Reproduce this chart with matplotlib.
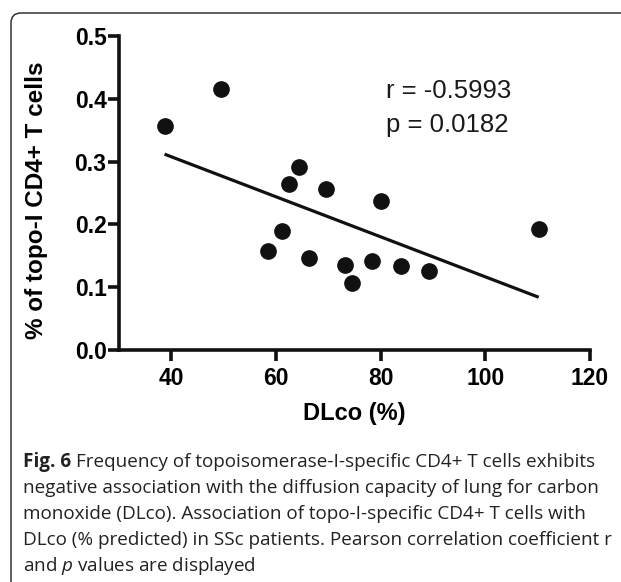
import numpy as np
import matplotlib
matplotlib.use('Agg')
import matplotlib.pyplot as plt
from matplotlib.patches import FancyBboxPatch

# valores
dlco = [38.7, 49.4, 58.5, 61.1, 62.4, 64.4, 66.4, 69.6, 73.1, 74.5, 78.3, 80.1, 83.9, 89.3, 110.2]
topo = [0.356, 0.415, 0.157, 0.189, 0.265, 0.291, 0.147, 0.256, 0.136, 0.107, 0.142, 0.237, 0.134, 0.126, 0.192]
xticks = [40, 60, 80, 100, 120]
yticks = [0.0, 0.1, 0.2, 0.3, 0.4, 0.5]
r_text = 'r = -0.5993'
p_text = 'p = 0.0182'
fig_label = 'Fig. 6'
caption = [
    'Frequency of topoisomerase-I-specific CD4+ T cells exhibits',
    'negative association with the diffusion capacity of lung for carbon',
    'monoxide (DLco). Association of topo-I-specific CD4+ T cells with',
    'DLco (% predicted) in SSc patients. Pearson correlation coefficient r',
    r'and $p$ values are displayed',
]

plt.rcParams['font.family'] = ['Liberation Sans', 'DejaVu Sans']
plt.rcParams['mathtext.fontset'] = 'custom'
plt.rcParams['mathtext.rm'] = 'Open Sans'
plt.rcParams['mathtext.it'] = 'Open Sans:italic'

W, H = 621, 582
fig = plt.figure(figsize=(W / 100, H / 100), dpi=100)

# marco redondeado (se sale por la derecha y por abajo)
box = FancyBboxPatch((11, -30), 640, H - 13 + 30, boxstyle='round,pad=0,rounding_size=10',
                     transform=None, fill=False, edgecolor='#333333', linewidth=1.1)
fig.patches.append(box)

ax = fig.add_axes([119 / W, 1 - 350 / H, (590 - 119) / W, (350 - 36) / H])
ax.plot(dlco, topo, 'o', color='#111111', markersize=11, clip_on=False, zorder=3)

# recta de regresion
m, b = np.polyfit(dlco, topo, 1)
xs = np.array([min(dlco), max(dlco)])
ax.plot(xs, m * xs + b, color='#111111', linewidth=2.3, solid_capstyle='butt')

ax.set_xlim(30, 120)
ax.set_ylim(0, 0.5)
ax.set_xticks(xticks)
ax.set_yticks(yticks)
ax.set_yticklabels(['%.1f' % v for v in yticks])
for s in ['top', 'right']:
    ax.spines[s].set_visible(False)
for s in ['left', 'bottom']:
    ax.spines[s].set_linewidth(2.6)
    ax.spines[s].set_color('#111111')
ax.tick_params(width=2.6, length=8, color='#111111', labelsize=16.5, pad=1)
for lab in ax.get_xticklabels() + ax.get_yticklabels():
    lab.set_fontweight('bold')
ax.tick_params(axis='x', pad=4)
ax.set_xlabel('DLco (%)', fontsize=17, fontweight='bold', labelpad=9)
ax.set_ylabel('% of topo-I CD4+ T cells', fontsize=17.5, fontweight='bold')
ax.yaxis.set_label_coords(-0.151, 0.478)

ax.text(386 / W, 1 - 91 / H, r_text, transform=fig.transFigure, fontsize=18.5,
        va='center', color='#1a1a1a')
ax.text(386 / W, 1 - 125 / H, p_text, transform=fig.transFigure, fontsize=18.5,
        va='center', color='#1a1a1a')

# pie de figura
ys = [462, 488, 514, 540, 566]
t0 = fig.text(23 / W, 1 - ys[0] / H, fig_label, fontsize=13.6, family='Open Sans',
              fontweight='bold', va='center', color='#222222')
fig.text(0, 0, caption[0], fontsize=13.6, family='Open Sans', va='center', color='#222222')
fig.texts[-1].remove()
fig.add_artist(plt.Annotation(caption[0], xy=(1, 0.5), xycoords=t0, xytext=(5, 0),
                              textcoords='offset pixels', fontsize=13.6, family='Open Sans',
                              va='center', color='#222222'))
for line, y in zip(caption[1:], ys[1:]):
    fig.text(23 / W, 1 - y / H, line, fontsize=13.6, family='Open Sans', va='center',
             color='#222222')

fig.savefig('out.png', dpi=100)
